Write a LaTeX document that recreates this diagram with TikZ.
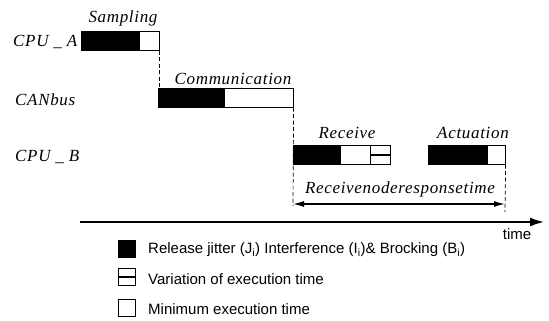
\documentclass[tikz,border=0pt]{standalone}
\usepackage{fontspec}
\setmainfont{Liberation Serif}
\setsansfont{Liberation Sans}
\newfontfamily\lblfont[LetterSpace=4]{Liberation Serif}
\usetikzlibrary{arrows.meta}
\begin{document}
\begin{tikzpicture}[x=1pt,y=-1pt,
  seg/.style={draw=black,line width=0.6pt,rectangle,inner sep=0pt,anchor=north west,minimum height=19pt},
  blk/.style={seg,fill=black},
  wht/.style={seg,fill=white},
  var/.style={seg,fill=white,path picture={\draw[line width=1.8pt]
      (path picture bounding box.west) -- (path picture bounding box.east);}},
  task/.style={font=\lblfont\itshape\fontsize{17}{20}\selectfont,inner sep=0pt},
  row/.style={font=\lblfont\itshape\fontsize{17}{20}\selectfont,inner sep=0pt,anchor=west},
  legend/.style={font=\sffamily\fontsize{15}{18}\selectfont,inner sep=0pt,anchor=west},
  key/.style={draw=black,line width=0.6pt,rectangle,inner sep=0pt,minimum width=17pt,minimum height=17pt},
  guide/.style={dashed,line width=0.7pt,dash pattern=on 4pt off 2.5pt},
  span/.style={{Latex[length=11pt,width=6pt]}-{Latex[length=11pt,width=6pt]},line width=1.3pt}]
\useasboundingbox (0,0) rectangle (549,321);

% row labels
\node[row] (lA) at (13,42) {CPU \_ A};
\node[row] (lC) at (15,100) {CANbus};
\node[row] (lB) at (15,157) {CPU \_ B};

% CPU_A: sampling
\node[blk,minimum width=58pt] (a1) at (81,31) {};
\node[wht,minimum width=20pt] (a2) at (139,31) {};
\node[task] (tS) at (123,18) {Sampling};

% CAN bus: communication
\node[blk,minimum width=66pt] (c1) at (158,88) {};
\node[wht,minimum width=69pt] (c2) at (224,88) {};
\node[task] (tC) at (233,79) {Communication};

% CPU_B: receive and actuation
\node[blk,minimum width=47pt] (r1) at (293,145) {};
\node[wht,minimum width=30pt] (r2) at (340,145) {};
\node[var,minimum width=20pt] (r3) at (370,145) {};
\node[task] (tR) at (347,133) {Receive};
\node[blk,minimum width=59pt] (u1) at (428,145) {};
\node[wht,minimum width=18pt] (u2) at (487,145) {};
\node[task] (tU) at (473,133) {Actuation};

% precedence guides
\draw[guide] (a2.south east) -- (a2.south east |- c1.north);
\coordinate (gL) at (293,206);
\coordinate (gR) at (505,212);
\draw[guide] (c2.south east) -- (gL);
\draw[guide] (u2.south east) -- (gR);

% response time span
\coordinate (sL) at (293,204);
\coordinate (sR) at (505,204);
\draw[span] (sL) -- (sR);
\node[task] (tT) at (400,189) {Receivenoderesponsetime};

% time axis
\coordinate (t0) at (80,222);
\coordinate (t1) at (544,222);
\draw[line width=1.6pt,-{Latex[length=14pt,width=9pt]}] (t0) -- (t1);
\node[font=\sffamily\fontsize{15}{18}\selectfont,inner sep=0pt] (tm) at (517,234) {time};

% legend
\node[key,fill=black] (k1) at (127,249) {};
\node[legend] (n1) at (148,250) {Release jitter (J\textsubscript{i}) Interference (I\textsubscript{i})\& Brocking (B\textsubscript{i})};
\node[key,fill=white,path picture={\draw[line width=1.8pt]
      (path picture bounding box.west) -- (path picture bounding box.east);}] (k2) at (127,277) {};
\node[legend] (n2) at (148,279) {Variation of execution time};
\node[key,fill=white] (k3) at (127,308) {};
\node[legend] (n3) at (148,309) {Minimum execution time};
\end{tikzpicture}
\end{document}
